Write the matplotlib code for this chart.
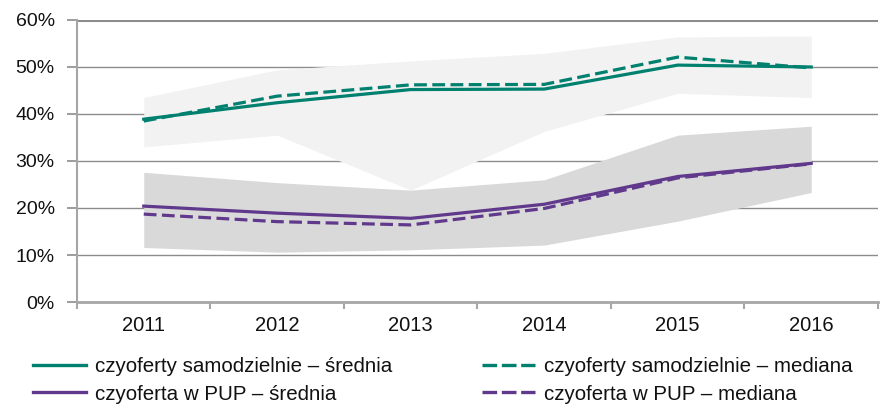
import matplotlib
matplotlib.use("Agg")
import matplotlib.pyplot as plt
from matplotlib.lines import Line2D
from matplotlib.ticker import FixedLocator, FuncFormatter

plt.rcParams['font.family'] = ['Liberation Sans', 'DejaVu Sans']

# data (percent)
years = ["2011", "2012", "2013", "2014", "2015", "2016"]
samo_mean = [38.9, 42.4, 45.2, 45.3, 50.4, 50.0]
samo_median = [38.5, 43.8, 46.2, 46.3, 52.1, 49.8]
samo_band_hi = [43.5, 49.4, 51.3, 52.9, 56.4, 56.6]
samo_band_lo = [33.0, 35.5, 23.8, 36.3, 44.4, 43.5]
pup_mean = [20.4, 18.9, 17.8, 20.8, 26.7, 29.5]
pup_median = [18.7, 17.1, 16.4, 19.9, 26.4, 29.4]
pup_band_hi = [27.6, 25.4, 23.8, 26.0, 35.5, 37.4]
pup_band_lo = [11.6, 10.6, 11.1, 12.1, 17.2, 23.3]

teal = "#00806e"
purple = "#60398c"
txt = "#111111"

fig = plt.figure(figsize=(8.8, 4.08), dpi=100)
ax = fig.add_axes([0.0875, 0.2598, 0.9102, 0.6912])
x = list(range(len(years)))

ax.set_xlim(-0.5, 5.5)
ax.set_ylim(0, 60)

# grid
for v in range(10, 61, 10):
    ax.axhline(v, color="#8c8c8c", lw=1.0 if v < 60 else 2.2,
               zorder=0.5 if v < 60 else 0.4)

ax.fill_between(x, samo_band_lo, samo_band_hi, color="#f2f2f2", lw=0, zorder=1)
ax.fill_between(x, pup_band_lo, pup_band_hi, color="#d9d9d9", lw=0, zorder=1)

ax.plot(x, samo_mean, color=teal, lw=2.3, zorder=3, solid_joinstyle="round")
ax.plot(x, samo_median, color=teal, lw=2.3, ls=(0, (4, 1.7)), zorder=3)
ax.plot(x, pup_mean, color=purple, lw=2.3, zorder=3, solid_joinstyle="round")
ax.plot(x, pup_median, color=purple, lw=2.3, ls=(0, (4, 1.7)), zorder=3)

for s in ["top", "right"]:
    ax.spines[s].set_visible(False)
ax.spines["left"].set_color("#a6a6a6")
ax.spines["left"].set_linewidth(1.5)
ax.spines["bottom"].set_color("#a6a6a6")
ax.spines["bottom"].set_linewidth(2.0)

ax.set_yticks(range(0, 61, 10))
ax.yaxis.set_major_formatter(FuncFormatter(lambda v, p: "%d%%" % v))
ax.tick_params(axis="y", length=7, width=1.2, color="#8c8c8c", pad=9,
               labelsize=14, labelcolor=txt)

ax.set_xticks(x)
ax.set_xticklabels(years)
ax.xaxis.set_minor_locator(FixedLocator([i - 0.5 for i in range(len(years) + 1)]))
ax.tick_params(axis="x", which="major", length=0, pad=10, labelsize=14.5,
               labelcolor=txt)
ax.tick_params(axis="x", which="minor", length=5, width=1.5, color="#a6a6a6")

# legend: two columns placed separately
leg_kw = dict(loc="upper left", frameon=False, fontsize=14.8, handlelength=2.6,
              handletextpad=0.4, labelspacing=0.42, borderaxespad=0, borderpad=0,
              labelcolor=txt)
leg1 = fig.legend(
    [Line2D([], [], color=teal, lw=2.4), Line2D([], [], color=purple, lw=2.4)],
    ["czyoferty samodzielnie \u2013 średnia", "czyoferta w PUP \u2013 średnia"],
    bbox_to_anchor=(33 / 880, 1 - 357 / 408), **leg_kw)
leg2 = fig.legend(
    [Line2D([], [], color=teal, lw=2.4, ls=(0, (4.4, 1.4))),
     Line2D([], [], color=purple, lw=2.4, ls=(0, (4.4, 1.4)))],
    ["czyoferty samodzielnie \u2013 mediana", "czyoferta w PUP \u2013 mediana"],
    bbox_to_anchor=(482 / 880, 1 - 357 / 408), **leg_kw)

fig.savefig("out.png", dpi=100)
